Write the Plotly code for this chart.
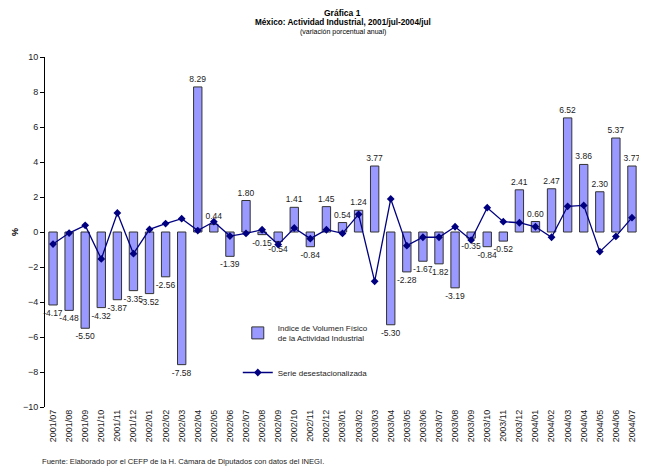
import plotly.graph_objects as go

months = ["2001/07","2001/08","2001/09","2001/10","2001/11","2001/12",
          "2002/01","2002/02","2002/03","2002/04","2002/05","2002/06",
          "2002/07","2002/08","2002/09","2002/10","2002/11","2002/12",
          "2003/01","2003/02","2003/03","2003/04","2003/05","2003/06",
          "2003/07","2003/08","2003/09","2003/10","2003/11","2003/12",
          "2004/01","2004/02","2004/03","2004/04","2004/05","2004/06","2004/07"]

indice_volumen = [-4.17,-4.48,-5.50,-4.32,-3.87,-3.35,
                  -3.52,-2.56,-7.58,8.29,0.44,-1.39,
                  1.80,-0.15,-0.54,1.41,-0.84,1.45,
                  0.54,1.24,3.77,-5.30,-2.28,-1.67,
                  -1.82,-3.19,-0.35,-0.84,-0.52,2.41,
                  0.60,2.47,6.52,3.86,2.30,5.37,3.77]

serie_desest = [-0.69,-0.06,0.38,-1.54,1.09,-1.24,
                0.15,0.48,0.76,0.08,0.59,-0.23,
                -0.08,0.13,-0.72,0.23,-0.38,0.13,
                -0.08,1.01,-2.82,1.89,-0.78,-0.30,
                -0.30,0.30,-0.46,1.39,0.59,0.53,
                0.30,-0.30,1.47,1.52,-1.12,-0.25,0.82]

y_ticks = [-10,-8,-6,-4,-2,0,2,4,6,8,10]

FONT = "Liberation Sans, Arial, sans-serif"

fig = go.Figure()
fig.add_trace(go.Bar(
    x=months, y=indice_volumen,
    name="Indice de Volumen Físico<br>de la Actividad Industrial",
    marker=dict(color="#9999FF", line=dict(color="#333333", width=1)),
    text=[f"{v:.2f}" for v in indice_volumen],
    textposition="outside", constraintext="none", cliponaxis=False,
    textfont=dict(size=8.5, color="#222222", family=FONT),
    legend="legend",
))
fig.add_trace(go.Scatter(
    x=months, y=serie_desest, mode="lines+markers",
    name="Serie desestacionalizada",
    line=dict(color="#000080", width=1.3),
    marker=dict(symbol="diamond", size=6, color="#000080"),
    legend="legend2",
))

n = len(months)
fig.update_layout(
    width=639, height=460,
    margin=dict(l=37, r=7, t=49, b=61),
    paper_bgcolor="white", plot_bgcolor="white",
    font=dict(family=FONT, size=9, color="#000000"),
    bargap=0.48,
    showlegend=True,
    legend=dict(x=0.324, y=0.26, xanchor="left", yanchor="top",
                font=dict(size=8, color="#222222"), bgcolor="rgba(0,0,0,0)", itemwidth=30),
    legend2=dict(x=0.324, y=0.14, xanchor="left", yanchor="top",
                 font=dict(size=8, color="#222222"), bgcolor="rgba(0,0,0,0)", itemwidth=30),
    xaxis=dict(type="category", categoryarray=months, tickangle=-90,
               showline=False, ticks="", showgrid=False, zeroline=False,
               tickfont=dict(size=9, color="#222222"), range=[-0.5, n-0.5]),
    xaxis2=dict(overlaying="x", anchor="free", position=0.5, side="bottom",
                range=[-0.5, n-0.5], tickmode="linear", tick0=-0.5, dtick=1,
                ticks="outside", ticklen=3, tickcolor="black", showline=True,
                linecolor="black", linewidth=1, showticklabels=False, showgrid=False,
                zeroline=False),
    xaxis3=dict(overlaying="x", anchor="free", position=0.5, side="bottom",
                range=[-0.5, n-0.5], tickmode="linear", tick0=-0.5, dtick=1,
                ticks="inside", ticklen=3, tickcolor="black", showline=False,
                showticklabels=False, showgrid=False, zeroline=False),
    yaxis=dict(range=[-10, 10], tickvals=y_ticks, ticks="outside", ticklen=4,
               tickcolor="black", showline=True, linecolor="black", linewidth=1,
               showgrid=False, zeroline=False, tickfont=dict(size=9, color="#222222")),
)

fig.add_annotation(text="<b>Gráfica 1</b>", xref="paper", yref="paper",
                   x=0.5, y=(407-13)/350, yanchor="middle", showarrow=False,
                   font=dict(size=8.5))
fig.add_annotation(text="<b>México: Actividad Industrial, 2001/jul-2004/jul</b>",
                   xref="paper", yref="paper", x=0.5, y=(407-22.5)/350, yanchor="middle",
                   showarrow=False, font=dict(size=8.2))
fig.add_annotation(text="(variación porcentual anual)", xref="paper", yref="paper",
                   x=0.5, y=(407-32)/350, yanchor="middle", showarrow=False,
                   font=dict(size=7))
fig.add_annotation(text="<b>%</b>", xref="paper", yref="paper", x=(15-45)/595,
                   y=0.5, xanchor="center", yanchor="middle", textangle=-90,
                   showarrow=False, font=dict(size=9))
fig.add_annotation(text="Fuente: Elaborado por el CEFP de la H. Cámara de Diputados con datos del INEGI.",
                   xref="paper", yref="paper", x=(40-45)/595, xanchor="left",
                   y=(407-462)/350, yanchor="middle", showarrow=False,
                   font=dict(size=7.6, color="#222222"))

fig.write_html("out.html")
